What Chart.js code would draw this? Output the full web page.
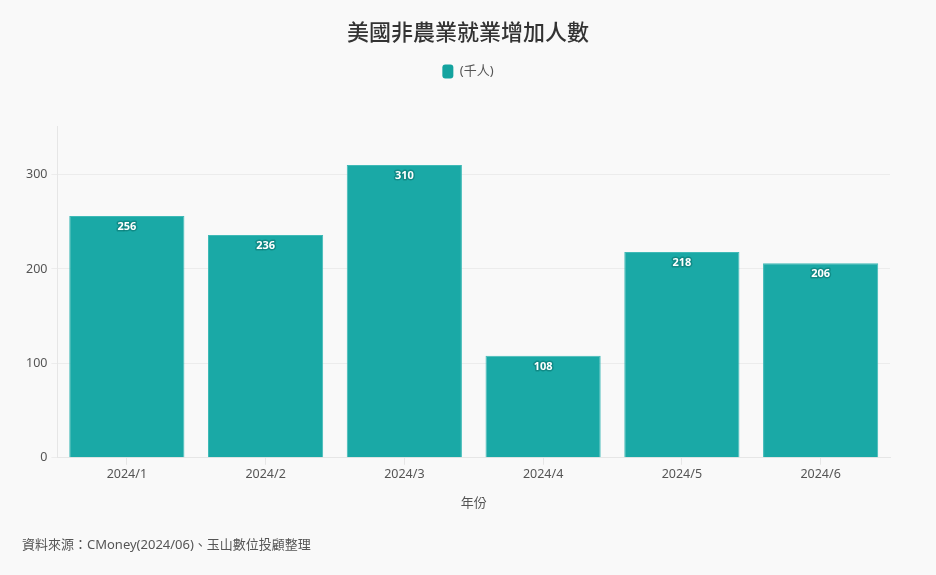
<!DOCTYPE html>
<html>
<head>
<meta charset="utf-8">
<script src="https://cdn.jsdelivr.net/npm/chart.js@4"></script>
<style>
  body { margin: 0; background: #f9f9f9; }
  #wrap { width: 936px; height: 575px; }
</style>
</head>
<body>
<div id="wrap"><canvas id="jobs-chart"></canvas></div>
<script>
const months = ["2024/1", "2024/2", "2024/3", "2024/4", "2024/5", "2024/6"];
const jobsAdded = [256, 236, 310, 108, 218, 206];
const yTicks = [0, 100, 200, 300];

const barColor = '#1aa9a6';
const fontFamily = '"Noto Sans", "Noto Sans CJK TC", sans-serif';

// value labels drawn just inside the top of each bar
const barLabels = {
    id: 'barLabels',
    afterDatasetsDraw(chart) {
        const ctx = chart.ctx;
        const meta = chart.getDatasetMeta(0);
        ctx.save();
        ctx.font = 'bold 11px ' + fontFamily;
        ctx.textAlign = 'center';
        ctx.textBaseline = 'middle';
        ctx.lineJoin = 'round';
        meta.data.forEach(function(bar, i) {
            const txt = String(jobsAdded[i]);
            ctx.strokeStyle = 'rgba(10,120,115,0.6)';
            ctx.lineWidth = 3;
            ctx.strokeText(txt, bar.x, bar.y + 11);
            ctx.fillStyle = '#ffffff';
            ctx.fillText(txt, bar.x, bar.y + 11);
        });
        ctx.restore();
    }
};

// extra room between legend and plot
const legendSpacer = {
    id: 'legendSpacer',
    beforeInit(chart) {
        const fit = chart.legend.fit;
        chart.legend.fit = function() {
            fit.bind(chart.legend)();
            this.height += 38;
        };
    }
};

const ctx = document.getElementById("jobs-chart").getContext("2d");

const chart = new Chart(ctx, {
    type: 'bar',
    data: {
        labels: months,
        datasets: [{
            label: '(千人)',
            data: jobsAdded,
            backgroundColor: barColor,
            borderColor: '#3fbab7',
            borderWidth: 1,
            barPercentage: 0.83,
            categoryPercentage: 1
        }]
    },
    options: {
        responsive: true,
        maintainAspectRatio: false,
        animation: false,
        layout: {
            padding: { left: 22, right: 22, top: 8, bottom: 12 }
        },
        plugins: {
            title: {
                display: true,
                text: '美國非農業就業增加人數',
                color: '#333333',
                font: { family: fontFamily, size: 22, weight: '500' },
                padding: { top: 13, bottom: 7 }
            },
            legend: {
                display: true,
                labels: {
                    color: '#555555',
                    font: { family: fontFamily, size: 13 },
                    boxWidth: 11,
                    boxHeight: 14,
                    useBorderRadius: true,
                    borderRadius: 3,
                    padding: 10,
                    generateLabels: function(chart) {
                        return [{
                            text: '(千人)',
                            fillStyle: '#14a39f',
                            strokeStyle: '#14a39f',
                            lineWidth: 0,
                            borderRadius: 3,
                            fontColor: '#555555',
                            datasetIndex: 0
                        }];
                    }
                }
            },
            subtitle: {
                display: true,
                position: 'bottom',
                align: 'start',
                text: '資料來源：CMoney(2024/06)、玉山數位投顧整理',
                color: '#555555',
                font: { family: fontFamily, size: 13 },
                padding: { top: 22, bottom: 10 }
            },
            tooltip: { enabled: false }
        },
        scales: {
            x: {
                grid: {
                    offset: false,
                    drawOnChartArea: false,
                    drawTicks: true,
                    tickLength: 7,
                    color: '#e6e6e6'
                },
                border: { color: '#e6e6e6' },
                ticks: {
                    color: '#555555',
                    font: { family: fontFamily, size: 12.5 },
                    padding: 2
                },
                title: {
                    display: true,
                    text: '年份',
                    color: '#555555',
                    font: { family: fontFamily, size: 13 },
                    padding: { top: 12 }
                }
            },
            y: {
                min: 0,
                max: 351,
                afterBuildTicks: function(axis) {
                    axis.ticks = yTicks.map(v => ({ value: v }));
                },
                grid: {
                    color: '#ececec',
                    tickLength: 6
                },
                border: { color: '#e6e6e6' },
                ticks: {
                    color: '#555555',
                    font: { family: fontFamily, size: 12.5 },
                    padding: 4
                }
            },
            // empty right-hand gutter so the title stays centred on the page
            gutter: {
                position: 'right',
                display: true,
                grid: { display: false },
                border: { display: false },
                ticks: { display: false },
                afterFit: function(axis) {
                    axis.width = 24;
                }
            }
        }
    },
    plugins: [barLabels, legendSpacer]
});
</script>
</body>
</html>
